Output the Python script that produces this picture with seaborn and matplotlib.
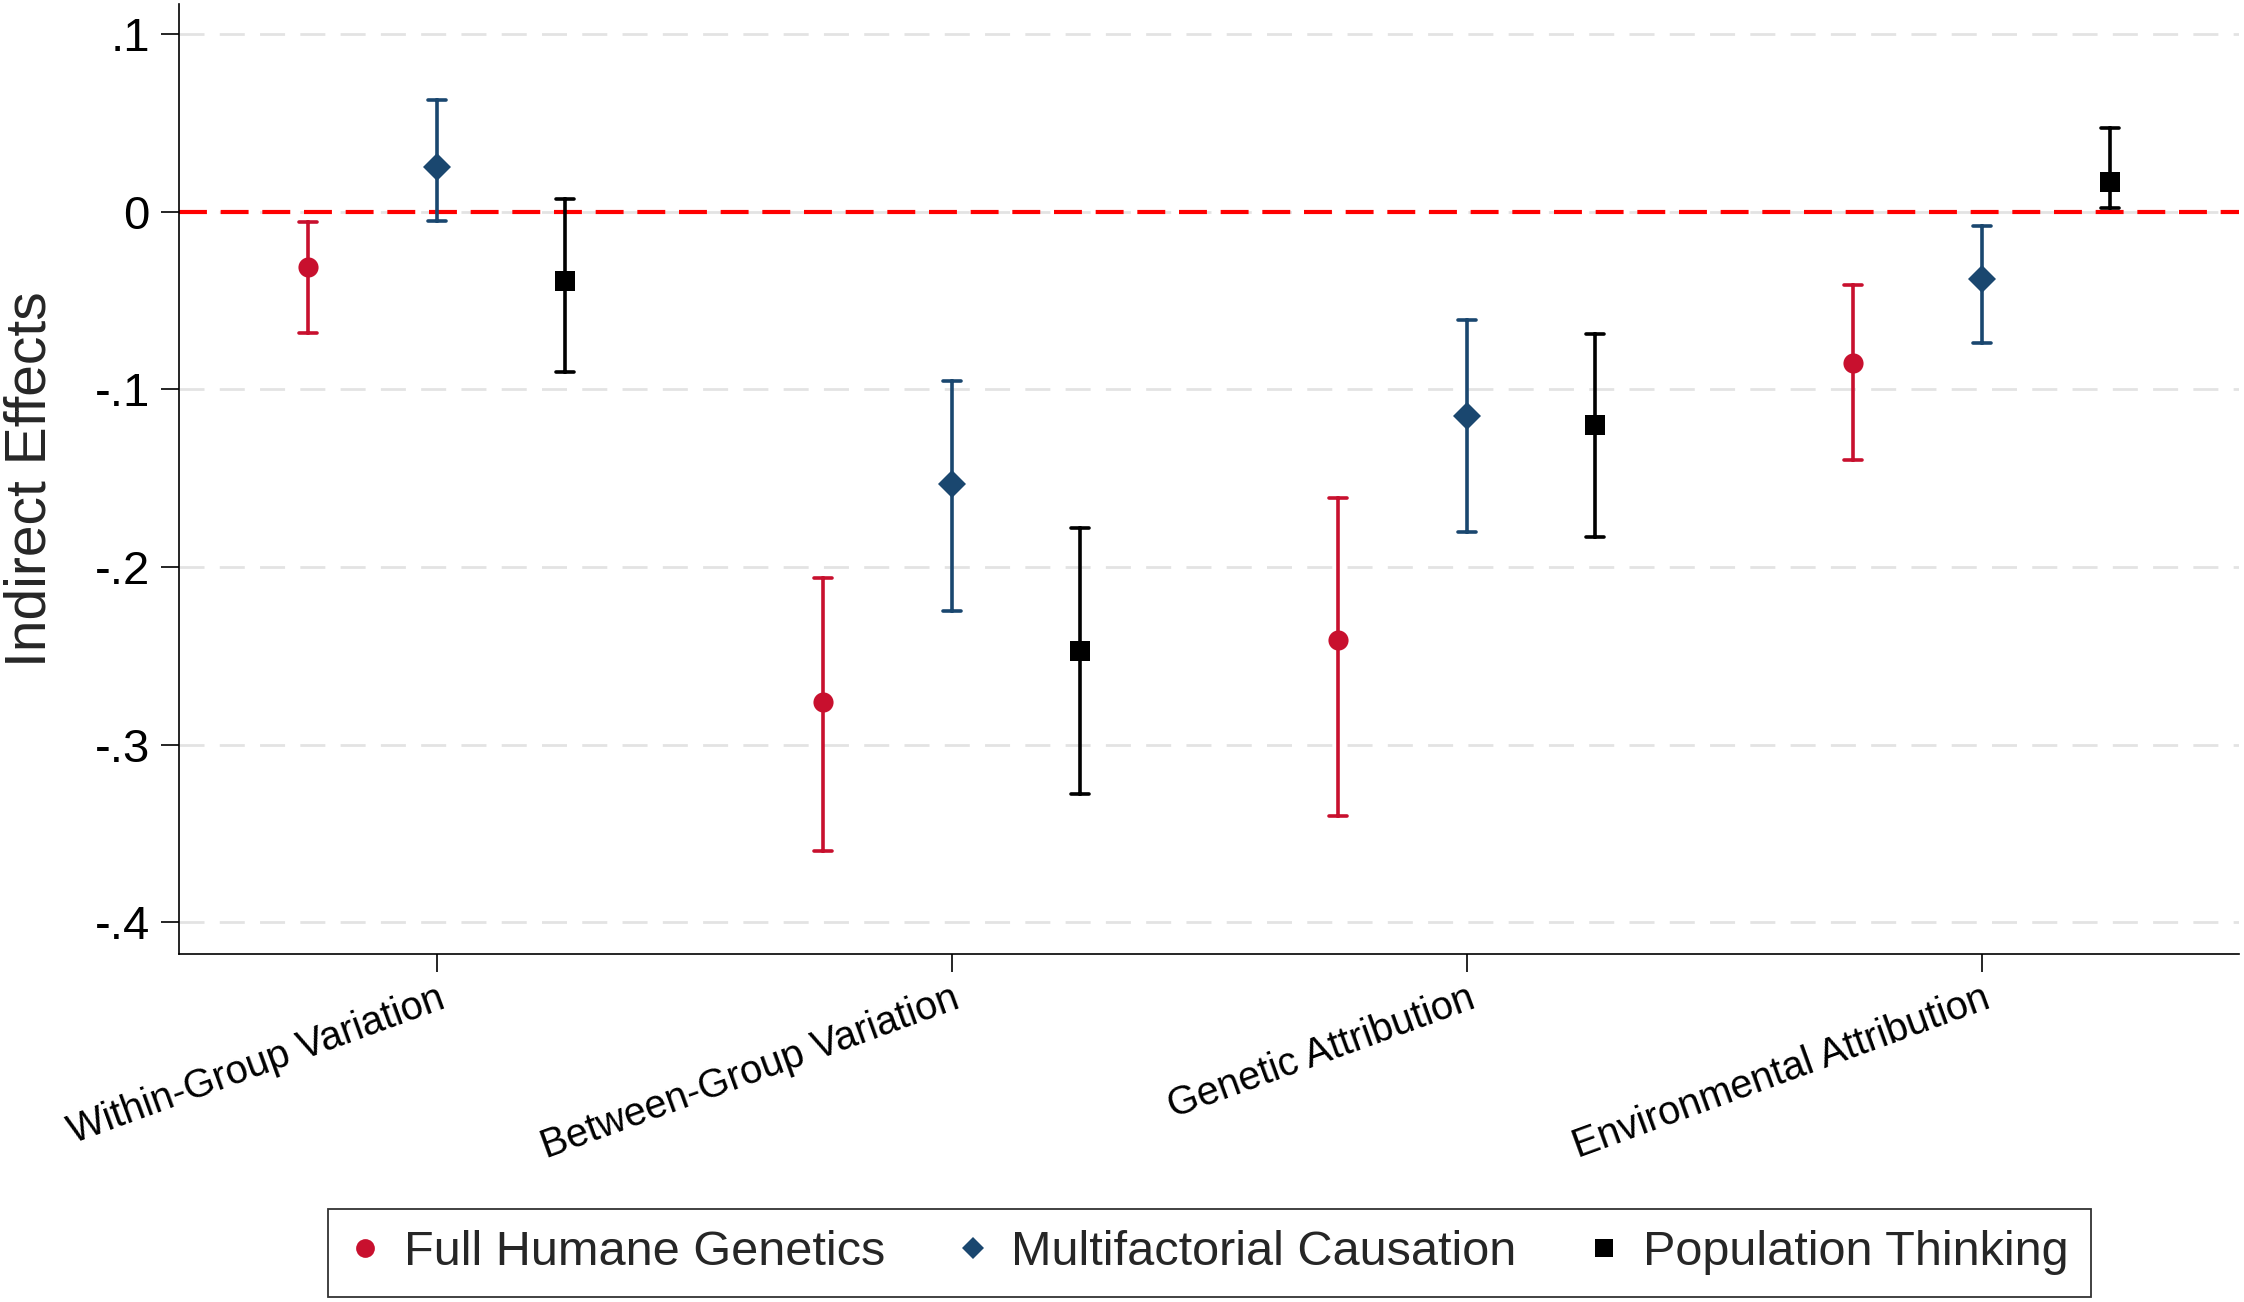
import matplotlib
matplotlib.use("Agg")
import pandas as pd
import matplotlib.pyplot as plt
from matplotlib.lines import Line2D
import seaborn as sns

outcomes = ["Within-Group Variation", "Between-Group Variation",
            "Genetic Attribution", "Environmental Attribution"]
mediators = ["Full Humane Genetics", "Multifactorial Causation", "Population Thinking"]

# indirect effect estimates with lower / upper CI bounds (one per outcome)
est_full = [-0.031, -0.276, -0.241, -0.085]
lo_full = [-0.068, -0.360, -0.340, -0.140]
hi_full = [-0.006, -0.206, -0.161, -0.041]

est_multi = [0.025, -0.153, -0.115, -0.038]
lo_multi = [-0.005, -0.225, -0.180, -0.074]
hi_multi = [0.063, -0.095, -0.061, -0.008]

est_pop = [-0.039, -0.247, -0.120, 0.017]
lo_pop = [-0.090, -0.328, -0.183, 0.002]
hi_pop = [0.007, -0.178, -0.069, 0.047]

yticks = [0.1, 0.0, -0.1, -0.2, -0.3, -0.4]
ytick_labels = [".1", "0", "-.1", "-.2", "-.3", "-.4"]

colors = ["#C8102E", "#1A476F", "#000000"]
markers = ["o", "D", "s"]

# long table: lower bound, estimate and upper bound as three rows per group,
# so median -> estimate and the 100% percentile interval -> CI
rows = []
series = {
    mediators[0]: (lo_full, est_full, hi_full),
    mediators[1]: (lo_multi, est_multi, hi_multi),
    mediators[2]: (lo_pop, est_pop, hi_pop),
}
for med, (lo, est, hi) in series.items():
    for i, out in enumerate(outcomes):
        for v in (lo[i], est[i], hi[i]):
            rows.append({"outcome": out, "mediator": med, "value": v})
df = pd.DataFrame(rows)

sns.set_theme(style="ticks")
plt.rcParams["font.family"] = ["Liberation Sans", "DejaVu Sans"]

fig = plt.figure(figsize=(22.44, 13.02), dpi=100)
ax = fig.add_axes([0.0798, 0.267, 0.918, 0.730])

sns.pointplot(
    data=df, x="outcome", y="value", hue="mediator",
    order=outcomes, hue_order=mediators,
    estimator="median", errorbar=("pi", 100),
    dodge=0.5, linestyle="none", markers=markers, palette=colors,
    capsize=0.035, err_kws={"linewidth": 2.6, "zorder": 3},
    markersize=14.5, markeredgewidth=0, legend=False, zorder=4, ax=ax,
)

ax.axhline(0, color="#FF0000", linewidth=3, dashes=(6.7, 3.3), zorder=2)

ax.set_xlim(-0.5, 3.5)
ax.set_ylim(-0.418, 0.117)
ax.set_yticks(yticks)
ax.set_yticklabels(ytick_labels)
ax.yaxis.grid(True, color="#E3E3E3", linewidth=2, dashes=(9, 5.5))
ax.set_axisbelow(True)

ax.set_xlabel("")
ax.set_ylabel("Indirect Effects", fontsize=41)
ax.yaxis.set_label_coords(-0.059, 0.5)

sns.despine(ax=ax)
for side in ["left", "bottom"]:
    ax.spines[side].set_linewidth(1.2)
    ax.spines[side].set_color("black")
ax.tick_params(axis="both", colors="black", width=1.2, length=13)
ax.tick_params(axis="y", labelsize=34, pad=8)
ax.tick_params(axis="x", labelsize=28.5, pad=5)
for lab in ax.get_xticklabels():
    lab.set_rotation(20)
    lab.set_ha("right")
    lab.set_va("top")
    lab.set_rotation_mode("anchor")

handles = [Line2D([], [], marker=m, color=c, linestyle="none",
                  markersize=(11.5 if m == "D" else 13.5), markeredgewidth=0)
           for m, c in zip(markers, colors)]
leg = fig.legend(handles, mediators, loc="upper center",
                 bbox_to_anchor=(0.539, 0.0718), ncol=3, fontsize=35,
                 frameon=True, fancybox=False, borderaxespad=0,
                 borderpad=0.45, handlelength=0.6, handletextpad=0.5,
                 columnspacing=1.5)
leg.get_frame().set_edgecolor("black")
leg.get_frame().set_linewidth(1.3)

fig.savefig("out.png", dpi=100)
